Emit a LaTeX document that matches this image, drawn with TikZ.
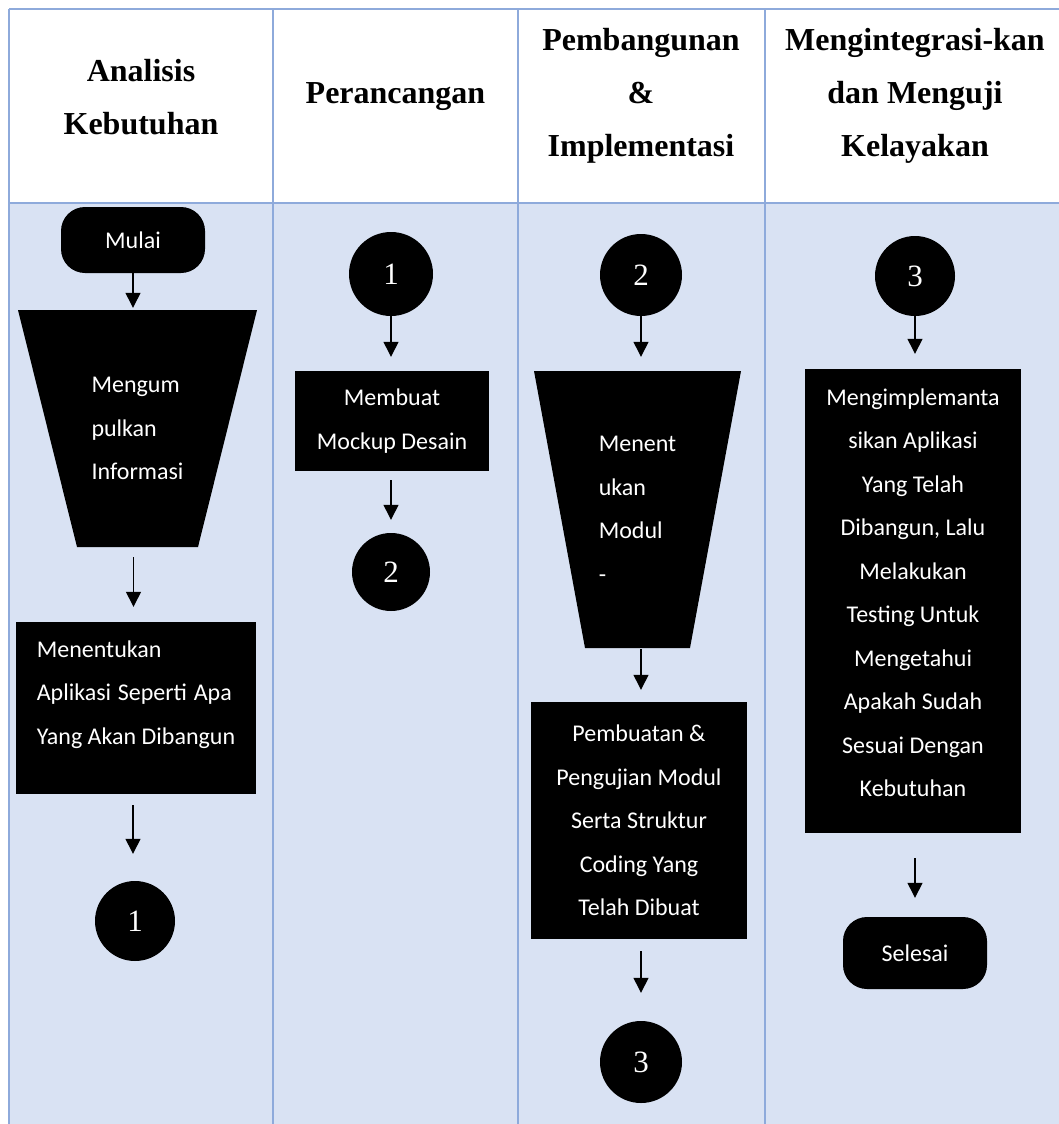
\documentclass[tikz,border=0pt]{standalone}
\usepackage{fontspec}
\setmainfont{Liberation Serif}
\newfontfamily\calibri{Carlito}
\usetikzlibrary{shapes}
\usetikzlibrary{arrows.meta}
\definecolor{lajur}{HTML}{D9E2F3}
\definecolor{garis}{HTML}{8EAADB}

\begin{document}
\begin{tikzpicture}[x=1pt,y=-1pt,
	judul/.style={font=\fontsize{32}{53}\selectfont\bfseries,align=center},
	proses/.style={fill=black,text=white,inner sep=0pt,align=center,font=\calibri\fontsize{24}{43.5}\selectfont},
	terminal/.style={proses,rounded corners=24pt,minimum width=144pt},
	konektor/.style={circle,fill=black,text=white,inner sep=0pt,minimum size=80pt,font=\fontsize{31}{31}\selectfont},
	corong/.style={proses,fill=lajur,align=left,path picture={\fill[black] (path picture bounding box.north west) -- (path picture bounding box.north east) -- ([xshift=-#1]path picture bounding box.south east) -- ([xshift=#1]path picture bounding box.south west) -- cycle;}},
	panah/.style={-{Triangle[width=15pt,length=15pt]},line width=1.3pt}
	]
	\useasboundingbox (0,0) rectangle (1059,1124);
	\fill[white] (0,0) rectangle (1059,1124);
	% tabel
	\fill[lajur] (9,203) rectangle (1059,1124);
	\draw[garis,line width=1.5pt] (9,9) -- (1059,9) (9,203) -- (1059,203);
	\foreach \x in {9,273,518,765}
		\draw[garis,line width=1.5pt] (\x,9) -- (\x,1124);
	% judul kolom
	\node[judul] (h1) at (141,97) {Analisis\\Kebutuhan};
	\node[judul] (h2) at (395.5,97) {Perancangan};
	\node[judul] (h3) at (641,96) {Pembangunan\\\&\\Implementasi};
	\node[judul] (h4) at (915,96) {Mengintegrasi-kan\\dan Menguji\\Kelayakan};
	% analisis kebutuhan
	\node[terminal,minimum height=66pt] (mulai) at (133,240) {Mulai};
	\node[corong=59pt,minimum width=239pt,minimum height=237pt] (kumpul) at (137.5,428.5) {Mengum\\pulkan\\Informasi};
	\node[proses,align=left,minimum width=240pt,minimum height=172pt] (tentukan) at (136,708) {Menentukan\\\makebox[195pt][s]{Aplikasi Seperti Apa}\\Yang Akan Dibangun\\[-12pt]\mbox{}};
	\node[konektor] (k1a) at (135,921) {1};
	% perancangan
	\node[konektor,minimum size=84pt] (k1b) at (391,274) {1};
	\node[proses,minimum width=194pt,minimum height=100pt] (mockup) at (392,421) {Membuat\\Mockup Desain};
	\node[konektor,minimum size=78pt] (k2a) at (391,572) {2};
	% pembangunan
	\node[konektor,minimum size=82pt] (k2b) at (641,275) {2};
	\node[corong=51pt,minimum width=207pt,minimum height=277pt] (modul) at (637.5,509.5) {Menent\\ukan\\Modul\\-};
	\node[proses,minimum width=216pt,minimum height=237pt] (buat) at (639,820.5) {Pembuatan \&\\Pengujian Modul\\Serta Struktur\\Coding Yang\\Telah Dibuat};
	\node[konektor,minimum size=82pt] (k3a) at (641,1062) {3};
	% integrasi
	\node[konektor] (k3b) at (915,276) {3};
	\node[proses,minimum width=216pt,minimum height=464pt] (uji) at (913,601) {Mengimplemanta\\sikan Aplikasi\\Yang Telah\\Dibangun, Lalu\\Melakukan\\Testing Untuk\\Mengetahui\\Apakah Sudah\\Sesuai Dengan\\Kebutuhan\\[-27pt]\mbox{}};
	\node[terminal,minimum height=72pt] (selesai) at (915,953) {Selesai};
	% panah
	\draw[panah,shorten >=2pt] (mulai.south) -- (mulai.south |- kumpul.north);
	\draw[panah,shorten <=10pt,shorten >=15pt] ([xshift=-4pt]kumpul.south) -- ([xshift=-4pt]kumpul.south |- tentukan.north);
	\draw[panah,shorten <=11pt,shorten >=27pt] ([xshift=-3pt]tentukan.south) -- ([xshift=-3pt]tentukan.south |- k1a.north);
	\draw[panah,shorten >=14pt] (k1b) -- (k1b |- mockup.north);
	\draw[panah,shorten <=9pt,shorten >=13pt] (k1b |- mockup.south) -- (k2a);
	\draw[panah,shorten >=14pt] (k2b) -- (k2b |- modul.north);
	\draw[panah,shorten <=1pt,shorten >=12pt] (k2b |- modul.south) -- (k2b |- buat.north);
	\draw[panah,shorten <=12pt,shorten >=28pt] (k2b |- buat.south) -- (k3a);
	\draw[panah,shorten >=15pt] (k3b) -- (k3b |- uji.north);
	\draw[panah,shorten <=25pt,shorten >=19pt] (k3b |- uji.south) -- (selesai);
\end{tikzpicture}
\end{document}
